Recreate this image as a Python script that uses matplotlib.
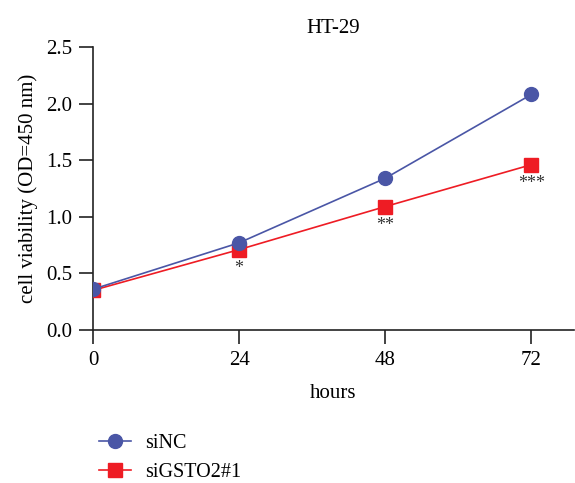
import matplotlib
matplotlib.use("Agg")
import matplotlib.pyplot as plt
from matplotlib.lines import Line2D

plt.rcParams['font.family'] = ['Liberation Serif', 'DejaVu Serif']

hours = [0, 24, 48, 72]
siNC = [0.36, 0.77, 1.34, 2.08]
siGSTO2 = [0.35, 0.71, 1.09, 1.46]
sig = ["", "*", "**", "***"]
yticks = [0.0, 0.5, 1.0, 1.5, 2.0, 2.5]

blue = "#4a56a6"
red = "#ee1c24"

fig = plt.figure(figsize=(5.75, 4.83), dpi=100)
ax = fig.add_axes([0.1617, 0.3168, 0.8365, 0.586])

ax.plot(hours, siGSTO2, color=red, lw=1.2, marker="s", ms=10, label="siGSTO2#1", zorder=3)
ax.plot(hours, siNC, color=blue, lw=1.2, marker="o", ms=10, label="siNC", zorder=4)

for h, v, s in zip(hours, siGSTO2, sig):
    if s:
        ax.text(h, v - 0.09, s, ha="center", va="top", fontsize=13, color="#333333")

ax.set_xlim(0, 79)
ax.set_ylim(0, 2.5)
ax.set_xticks(hours)
ax.set_yticks(yticks)
ax.set_yticklabels([f"{t:.1f}" for t in yticks])
for sp in ["top", "right"]:
    ax.spines[sp].set_visible(False)
for sp in ["left", "bottom"]:
    ax.spines[sp].set_linewidth(1.2)
    ax.spines[sp].set_color("#222222")
ax.tick_params(axis="both", direction="out", length=10, width=1.2, labelsize=15, color="#222222", pad=5)
ax.set_xlabel("hours", fontsize=15, labelpad=10)
ax.set_ylabel("cell viability (OD=450 nm)", fontsize=15, labelpad=6)
ax.set_title("HT-29", fontsize=15, pad=10)

handles = [Line2D([], [], color=blue, marker="o", ms=10, lw=1.2),
           Line2D([], [], color=red, marker="s", ms=10, lw=1.2)]
fig.legend(handles, ["siNC", "siGSTO2#1"], loc="upper left",
           bbox_to_anchor=(0.14, 0.14), frameon=False, fontsize=14.5,
           handlelength=1.6, labelspacing=0.5, handletextpad=0.7)

fig.savefig("out.png", dpi=100)
